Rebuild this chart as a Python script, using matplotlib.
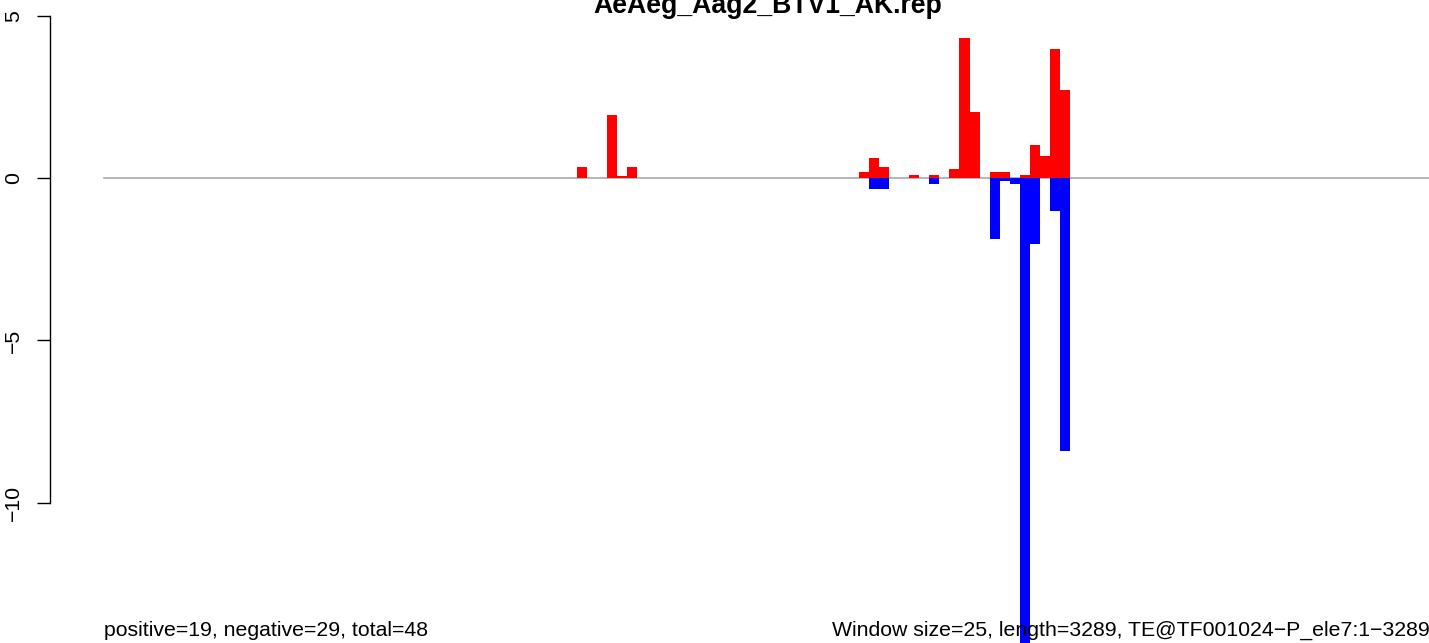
import numpy as np
import matplotlib
matplotlib.use('Agg')
import matplotlib.pyplot as plt

plt.rcParams['font.family'] = ['Liberation Sans', 'DejaVu Sans']

# ---- data ----
title = 'AeAeg_Aag2_BTV1_AK.rep'
window_size = 25
seq_length = 3289
n_pos, n_neg = 19, 29

# sense (red) windows: bin index, value
pos_bins = [47, 50, 51, 52, 75, 76, 77, 80, 82, 84, 85, 86, 88, 89, 91, 92, 93, 94, 95]
pos_vals = [0.33, 1.94, 0.08, 0.33, 0.18, 0.62, 0.34, 0.09, 0.09, 0.27, 4.31, 2.03,
            0.18, 0.18, 0.09, 1.02, 0.69, 3.97, 2.71]
# antisense (blue) windows
neg_bins = [76, 77, 82, 88, 89, 90, 91, 92, 94, 95]
neg_vals = [-0.34, -0.34, -0.18, -1.88, -0.09, -0.18, -14.4, -2.03, -1.02, -8.42]

yticks = [5, 0, -5, -10]
ytick_labels = ['5', '0', '\u22125', '\u221210']

# ---- layout (pixel geometry of the original R device) ----
W, H = 1429, 643
px_per_bin = 10.07
px_per_unit = 32.47
x0_px, y0_px = 103.5, 178.1   # where bin 0 / value 0 sit
axis_px = 50.3                # y axis line

n_bins = int(np.ceil(seq_length / window_size))

fig = plt.figure(figsize=(W / 100, H / 100), dpi=100)
ax = fig.add_axes([axis_px / W, 0, 1 - axis_px / W, 1])
ax.set_xlim(-(x0_px - axis_px) / px_per_bin, (W - x0_px) / px_per_bin)
ax.set_ylim(-(H - y0_px) / px_per_unit, y0_px / px_per_unit)

ax.plot([0, n_bins], [0, 0], color='#a0a0a0', lw=1.1, zorder=1)
ax.bar(pos_bins, pos_vals, width=1.0, align='edge', color='#ff0000', lw=0, zorder=2)
ax.bar(neg_bins, neg_vals, width=1.0, align='edge', color='#0000ff', lw=0, zorder=2)

for side in ['top', 'right', 'bottom']:
    ax.spines[side].set_visible(False)
ax.spines['left'].set_bounds(-10, 5)
ax.spines['left'].set_linewidth(1.0)
ax.set_xticks([])
ax.set_yticks(yticks)
ax.set_yticklabels(ytick_labels, rotation=90, va='center', fontsize=15.3)
ax.tick_params(axis='y', length=9.4, width=1.0, pad=10)

fig.text(768 / W, 1 - 12.7 / H, title, ha='center', va='baseline',
         fontsize=19.2, fontweight='bold')
fig.text(x0_px / W, 1 - 636 / H,
         f'positive={n_pos}, negative={n_neg}, total={n_pos + n_neg}',
         ha='left', va='baseline', fontsize=15.3)
fig.text(832 / W, 1 - 636 / H,
         f'Window size={window_size}, length={seq_length}, TE@TF001024\u2212P_ele7:1\u2212{seq_length}',
         ha='left', va='baseline', fontsize=15.3)

fig.savefig('out.png', dpi=100)
